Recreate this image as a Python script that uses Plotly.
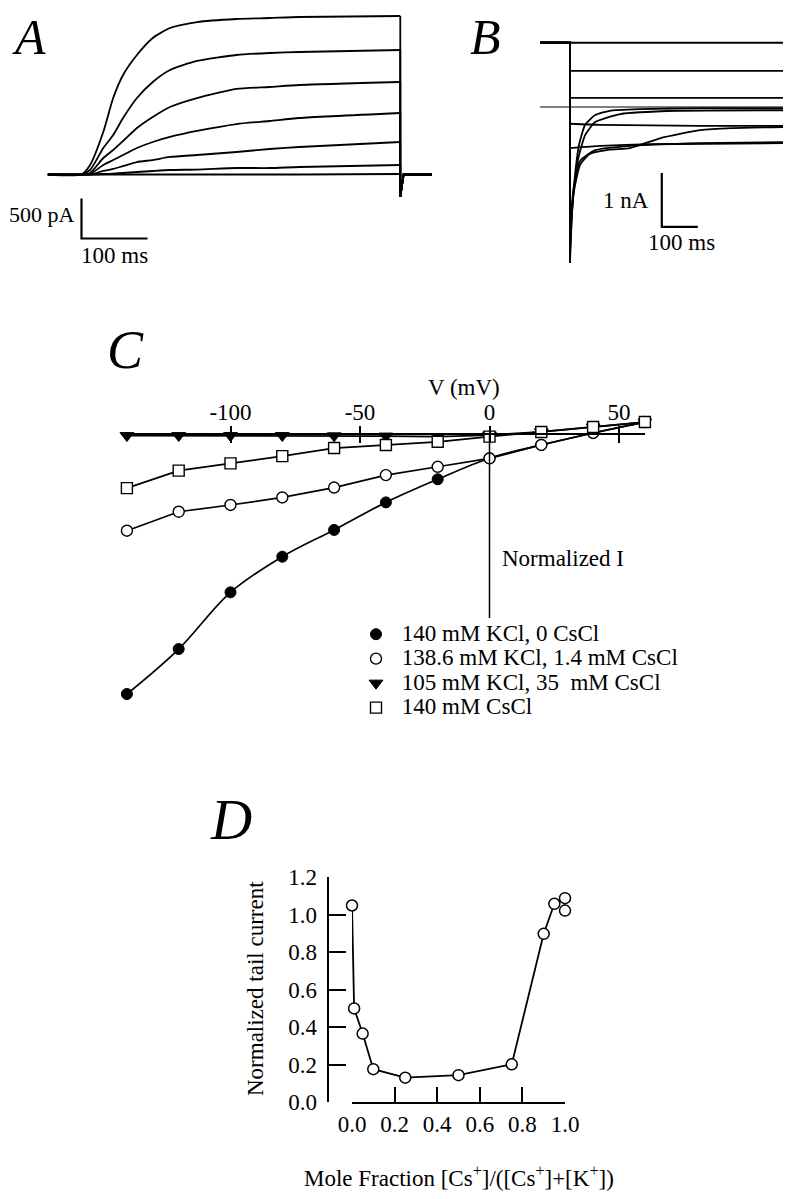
import plotly.graph_objects as go

# ---------------- DATA ----------------
# Panel A: activation currents (time in ms, current in pA)
A_pre_t = -51
A_rise_t = [0, 13, 33, 48, 63, 84, 108, 134, 175, 235, 285, 330, 483]
A_tr1 = [0, 119, 531, 956, 1244, 1494, 1706, 1831, 1906, 1944, 1956, 1969, 1981]
A_tr2 = [0, 56, 331, 494, 706, 956, 1156, 1306, 1419, 1494, 1519, 1531, 1556]
A_tr3 = [0, 19, 206, 306, 419, 581, 719, 844, 956, 1069, 1094, 1119, 1156]
A_tr4 = [0, 6, 119, 181, 244, 331, 406, 469, 544, 631, 669, 706, 769]
A_tr5 = [0, 0, 44, 69, 106, 156, 181, 219, 244, 281, 319, 344, 406]
A_tr6 = [0, 0, 6, 12, 19, 31, 44, 56, 62, 81, 81, 94, 119]
A_tr7 = [0, 0, 0, 0, 0, 0, 0, 0, 0, 0, 0, 0, 6]
A_post_t = [483, 488, 531]
A_post_I = [-281, 0, 0]
A_bar_t0, A_bar_I0, A_bar_ms, A_bar_pA = 0, -800, 100, 500

# Panel B: tail currents (time in ms, current in nA)
B_pre_t = [-83, 0]
B_hold = 1.19
B_end_t = 597
B_flat_levels = [1.19, 0.67, 0.17]
B_tail_t = [
    [0, 5, 14, 25, 42, 70, 110, 195, 360, 597],
    [0, 8, 22, 42, 70, 140, 300, 597],
    [0, 85, 360, 597],
    [0, 10, 28, 55, 110, 167, 250, 361, 450, 597],
    [0, 10, 28, 70, 170, 360, 597],
    [0, 85, 220, 597],
]
B_tail_I = [
    [-2.89, -2.0, -1.26, -0.70, -0.33, -0.15, -0.07, -0.04, -0.02, -0.02],
    [-2.74, -1.72, -0.98, -0.52, -0.28, -0.13, -0.07, -0.06],
    [-0.31, -0.33, -0.35, -0.35],
    [-2.46, -1.6, -1.07, -0.87, -0.79, -0.76, -0.58, -0.43, -0.39, -0.37],
    [-2.28, -1.5, -1.0, -0.80, -0.72, -0.67, -0.65],
    [-0.76, -0.72, -0.69, -0.67],
]
B_bar_t0, B_bar_I0, B_bar_ms, B_bar_nA = 255, -2.22, 100, 1

# Panel C: I-V relations
C_V = [-140, -120, -100, -80, -60, -40, -20, 0, 20, 40, 60]
C_K140 = [-1.0, -0.827, -0.609, -0.472, -0.369, -0.263, -0.174, -0.093, -0.042, 0.004, 0.046]
C_K1386 = [-0.372, -0.299, -0.273, -0.244, -0.206, -0.158, -0.126, -0.094, -0.042, 0.004, 0.046]
C_K105 = [-0.006, -0.006, -0.006, -0.006, -0.007, -0.008, -0.010, -0.004, 0.008, 0.027, 0.046]
C_Cs140 = [-0.208, -0.141, -0.113, -0.085, -0.054, -0.042, -0.030, -0.010, 0.008, 0.027, 0.046]
C_names = ["140 mM KCl, 0 CsCl", "138.6 mM KCl, 1.4 mM CsCl",
           "105 mM KCl, 35\u00a0\u00a0mM CsCl", "140 mM CsCl"]
C_ticks = [-100, -50, 0, 50]
C_ticktext = ["-100", "-50", "0", "50"]

# Panel D: anomalous mole fraction
D_x = [0.0, 0.01, 0.05, 0.1, 0.25, 0.5, 0.75, 0.9, 0.95, 1.0, 1.0]
D_y = [1.048, 0.499, 0.365, 0.175, 0.130, 0.143, 0.201, 0.897, 1.057, 1.087, 1.021]
D_xticks = [0.0, 0.2, 0.4, 0.6, 0.8, 1.0]
D_yticks = [0.0, 0.2, 0.4, 0.6, 0.8, 1.0, 1.2]

# ---------------- LAYOUT HELPERS ----------------
W, H = 791, 1199
OFF = 8          # the page body margin that shifts the figure on screen
FONT = "Liberation Serif"
FS = 23


def fx(p):
    return (p - OFF) / W


def fy(p):
    return 1 - (p - OFF) / H


def ydom(top, bottom):
    return [fy(bottom), fy(top)]


fig = go.Figure()
LW = 1.8
NOHOV = dict(showlegend=False, hoverinfo="skip")

# Panel A traces
for tr in [A_tr1, A_tr2, A_tr3, A_tr4, A_tr5, A_tr6, A_tr7]:
    fig.add_trace(go.Scatter(
        x=[A_pre_t] + A_rise_t, y=[0] + tr,
        mode="lines", line=dict(color="black", width=LW, shape="spline", smoothing=0.6),
        xaxis="x", yaxis="y", **NOHOV))
    fig.add_trace(go.Scatter(
        x=[A_rise_t[-1]] + A_post_t, y=[tr[-1]] + A_post_I,
        mode="lines", line=dict(color="black", width=LW),
        xaxis="x", yaxis="y", **NOHOV))
fig.add_trace(go.Scatter(
    x=[A_bar_t0, A_bar_t0, A_bar_t0 + A_bar_ms],
    y=[A_bar_I0 + A_bar_pA, A_bar_I0, A_bar_I0],
    mode="lines", line=dict(color="black", width=2.2),
    xaxis="x", yaxis="y", **NOHOV))

# Panel B traces
fig.add_trace(go.Scatter(x=[B_pre_t[0], B_end_t], y=[0, 0], mode="lines",
                         line=dict(color="black", width=1.1),
                         xaxis="x2", yaxis="y2", **NOHOV))
for lev in B_flat_levels:
    fig.add_trace(go.Scatter(
        x=B_pre_t + [0, B_end_t], y=[B_hold, B_hold, lev, lev],
        mode="lines", line=dict(color="black", width=LW),
        xaxis="x2", yaxis="y2", **NOHOV))
for tt, ii in zip(B_tail_t, B_tail_I):
    fig.add_trace(go.Scatter(
        x=B_pre_t + [tt[0]], y=[B_hold, B_hold, ii[0]],
        mode="lines", line=dict(color="black", width=LW),
        xaxis="x2", yaxis="y2", **NOHOV))
    fig.add_trace(go.Scatter(
        x=tt, y=ii,
        mode="lines", line=dict(color="black", width=LW, shape="spline", smoothing=0.5),
        xaxis="x2", yaxis="y2", **NOHOV))
fig.add_trace(go.Scatter(
    x=[B_bar_t0, B_bar_t0, B_bar_t0 + B_bar_ms],
    y=[B_bar_I0 + B_bar_nA, B_bar_I0, B_bar_I0],
    mode="lines", line=dict(color="black", width=2.2),
    xaxis="x2", yaxis="y2", **NOHOV))

# Panel C
series = [C_K140, C_K1386, C_K105, C_Cs140]
shapes_line = ["spline", "linear", "linear", "linear"]
for s, sh in zip(series, shapes_line):
    fig.add_trace(go.Scatter(x=C_V, y=s, mode="lines",
                             line=dict(color="black", width=1.7, shape=sh),
                             xaxis="x3", yaxis="y3", **NOHOV))
mk = [
    dict(symbol="circle", size=11, color="black", line=dict(color="black", width=1)),
    dict(symbol="circle", size=11, color="white", line=dict(color="black", width=1.4)),
    dict(symbol="triangle-down", size=12, color="black", line=dict(color="black", width=1)),
    dict(symbol="square", size=11, color="white", line=dict(color="black", width=1.4)),
]
for s, m, nm in zip(series, mk, C_names):
    fig.add_trace(go.Scatter(
        x=C_V, y=s, mode="markers", marker=m, cliponaxis=False,
        name='<span style="font-size:23px">\u00a0' + nm + "</span>",
        xaxis="x3", yaxis="y3", showlegend=True, hoverinfo="skip"))
# empty trace so the inward-tick overlay axis is drawn
fig.add_trace(go.Scatter(x=[None], y=[None], xaxis="x4", yaxis="y3", **NOHOV))

# Panel D
fig.add_trace(go.Scatter(
    x=D_x, y=D_y, mode="lines+markers", cliponaxis=False,
    line=dict(color="black", width=1.8),
    marker=dict(symbol="circle", size=11, color="white", line=dict(color="black", width=1.5)),
    xaxis="x5", yaxis="y5", **NOHOV))

# ---------------- AXES ----------------
hidden = dict(visible=False, fixedrange=True)
tickfont = dict(family=FONT, size=FS, color="black")

layout = dict(
    width=W, height=H,
    margin=dict(l=0, r=0, t=0, b=0, pad=0, autoexpand=False),
    paper_bgcolor="white", plot_bgcolor="rgba(0,0,0,0)",
    font=dict(family=FONT, size=FS, color="black"),
    xaxis=dict(domain=[fx(40), fx(440)], range=[-62.88, 543.18], anchor="y", **hidden),
    yaxis=dict(domain=ydom(8, 270), range=[-1193.75, 2081.25], anchor="x", **hidden),
    xaxis2=dict(domain=[fx(530), fx(791)], range=[-111.1, 613.9], anchor="y2", **hidden),
    yaxis2=dict(domain=ydom(8, 275), range=[-3.111, 1.833], anchor="x2", **hidden),
    xaxis3=dict(domain=[fx(121), fx(645)], range=[-142.28, 60.04], anchor="free",
                position=fy(434), side="top", showline=True, linecolor="black", linewidth=1.5,
                ticks="outside", ticklen=7, tickwidth=1.5, tickcolor="black",
                tickvals=C_ticks, ticktext=C_ticktext, tickfont=tickfont,
                ticklabelstandoff=-3,
                showgrid=False, zeroline=False, fixedrange=True, automargin=False),
    xaxis4=dict(overlaying="x3", range=[-142.28, 60.04], anchor="free",
                position=fy(434), side="top", showline=False,
                ticks="inside", ticklen=8, tickwidth=1.5, tickcolor="black",
                tickvals=C_ticks, showticklabels=False,
                showgrid=False, zeroline=False, fixedrange=True, automargin=False),
    yaxis3=dict(domain=ydom(415, 705), range=[-1.0423, 0.0731], anchor="x3", **hidden),
    xaxis5=dict(domain=[fx(352), fx(565)], range=[0, 1], anchor="y5",
                showline=True, linecolor="black", linewidth=1.5,
                ticks="inside", ticklen=15, tickwidth=1.5, tickcolor="black",
                tickvals=D_xticks, ticktext=["%.1f" % v for v in D_xticks],
                tickfont=tickfont, ticklabelstandoff=1,
                showgrid=False, zeroline=False, fixedrange=True, automargin=False),
    yaxis5=dict(domain=ydom(877, 1102), range=[0, 1.2], anchor="free", position=fx(328.3),
                showline=True, linecolor="black", linewidth=1.5,
                ticks="inside", ticklen=17, tickwidth=1.5, tickcolor="black",
                tickvals=D_yticks, ticktext=["%.1f" % v for v in D_yticks],
                tickfont=tickfont, ticklabelstandoff=6,
                showgrid=False, zeroline=False, fixedrange=True, automargin=False),
    legend=dict(x=fx(356), y=fy(617), xanchor="left", yanchor="top",
                bgcolor="rgba(0,0,0,0)", borderwidth=0,
                font=dict(family=FONT, size=16.5, color="black"),
                itemsizing="trace", tracegroupgap=0),
    showlegend=True,
)
fig.update_layout(**layout)

# C vertical axis line (from the V axis down to the legend)
fig.add_shape(type="line", xref="x3", yref="paper", x0=0, x1=0, y0=fy(434), y1=fy(618),
              line=dict(color="black", width=1.5))


def ann(text, x, y, xanchor="center", size=FS, angle=0):
    fig.add_annotation(text=text, x=fx(x), y=fy(y), xref="paper", yref="paper",
                       xanchor=xanchor, yanchor="middle", showarrow=False, textangle=angle,
                       font=dict(family=FONT, size=size, color="black"))


# panel letters
ann("<i>A</i>", 10, 37, "left", 50)
ann("<i>B</i>", 468, 37, "left", 50)
ann("<i>C</i>", 105, 350, "left", 54)
ann("<i>D</i>", 208, 819, "left", 57)

# scale bar labels
ann("500 pA", 77, 214, "right", 22)
ann("100 ms", 79, 255, "left")
ann("1 nA", 651, 200, "right")
ann("100 ms", 646, 242, "left")

# C labels
ann("V (mV)", 464, 387)
ann("Normalized I", 500, 558, "left")

# D labels
ann("Mole Fraction [Cs<sup>+</sup>]/([Cs<sup>+</sup>]+[K<sup>+</sup>])", 459, 1176)
ann("Normalized tail current", 255, 989, "center", FS, -90)

fig.write_html("out.html")
